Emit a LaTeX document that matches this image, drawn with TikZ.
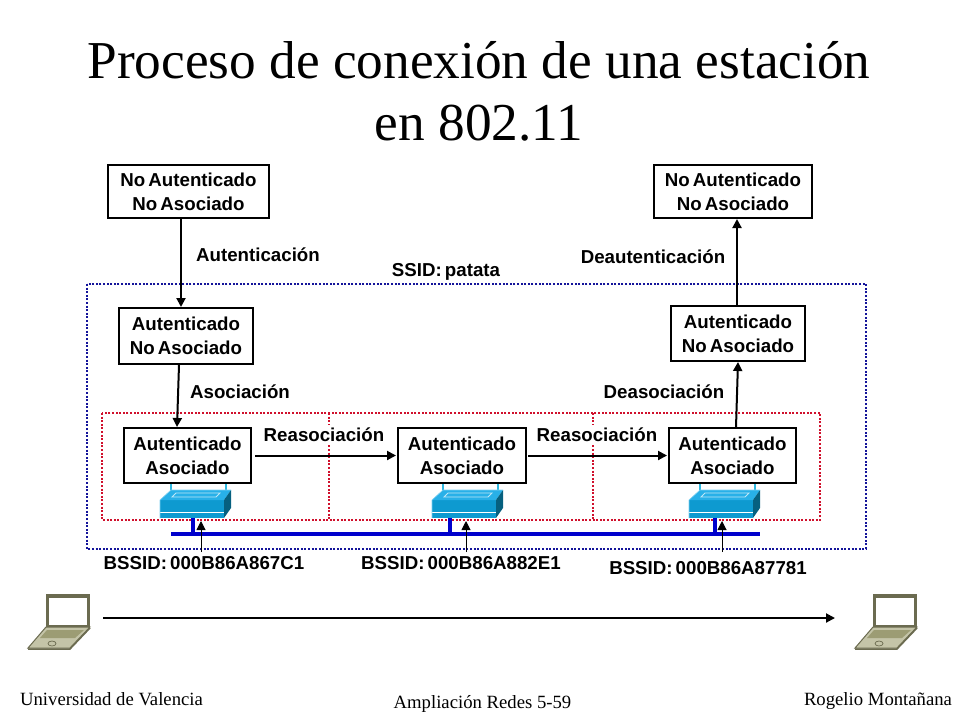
\documentclass[tikz,border=0pt]{standalone}
\usepackage{fontspec}
\setmainfont{Liberation Serif}
\setsansfont{Liberation Sans}[WordSpace=0.6]
\usetikzlibrary{arrows.meta,calc}
\definecolor{dotblue}{HTML}{14149A}
\definecolor{dotred}{HTML}{D0102C}
\definecolor{busblue}{HTML}{0000CC}
\definecolor{swfront}{HTML}{0E9AD0}
\definecolor{swtop}{HTML}{28B0E8}
\definecolor{swside}{HTML}{06607F}
\definecolor{swline}{HTML}{30B8E0}
\definecolor{lapdark}{HTML}{6B6B50}
\definecolor{lapmid}{HTML}{9C9C74}
\definecolor{laplight}{HTML}{C4C4A8}
\tikzset{
  x=1pt,y=-1pt,
  statebox/.style={draw=black,line width=2pt,fill=white,align=center,font=\fontsize{18.7}{24}\selectfont\sffamily\bfseries,inner sep=0pt},
  lbl/.style={font=\fontsize{18.7}{19}\selectfont\sffamily\bfseries,inner sep=1pt},
  lblw/.style={lbl,fill=white,inner xsep=2pt,inner ysep=3pt},
  foot/.style={font=\fontsize{18.7}{20}\selectfont\rmfamily,inner sep=0pt,anchor=base},
  conn/.style={line width=2pt,-{Triangle[length=9pt,width=9pt]},black},
  bssarrow/.style={line width=1pt,-{Triangle[length=9pt,width=9pt]},black},
  bluedots/.style={draw=dotblue,line width=2.2pt,dash pattern=on 2pt off 1.6pt},
  reddots/.style={draw=dotred,line width=2.2pt,dash pattern=on 2pt off 1.6pt},
  bus/.style={draw=busblue,line width=3.2pt},
  swlink/.style={draw=swline,line width=1.3pt},
  pics/switchbox/.style={code={
    \fill[swfront] (0,10) rectangle (64,28);
    \draw[white,line width=.7pt] (0,22) -- (64,22);
    \fill[swtop] (0,10) -- (11,0) -- (71,0) -- (64,10) -- cycle;
    \draw[white!70!swtop,line width=.8pt] (12,7) -- (16,3) -- (60,3) -- (56,7) -- cycle;
    \fill[swside] (64,10) -- (71,0) -- (71,18) -- (64,28) -- cycle;
    \draw[white!40!swtop,line width=.6pt] (0,28) -- (0,10) -- (11,0) -- (71,0);
  }},
  pics/laptop/.style={code={
    \fill[lapdark] (18,0) -- (62,0) -- (62,34) -- (18,34) -- cycle;
    \fill[white] (21,4) rectangle (59,31);
    \fill[laplight,draw=lapdark,line width=1pt] (18,33) -- (62,33) -- (42,54) -- (0,54) -- cycle;
    \fill[lapmid] (19,36) -- (56,36) -- (47,44) -- (12,44) -- cycle;
    \draw[lapdark,line width=.7pt] (24,49.5) ellipse (4 and 2.5);
    \draw[lapdark,line width=1.5pt] (0,55) -- (42,55) -- (62,34);
  }}
}
\begin{document}
\begin{tikzpicture}
\useasboundingbox (0,0) rectangle (960,720);
% title
\node[font=\fontsize{53.3}{62}\selectfont\rmfamily,align=center,inner sep=0pt] (title) at (479,91) {Proceso de conexión de una estación\\en 802.11};
% zones
\draw[bluedots] (87,284) rectangle (866,549);
\draw[reddots] (102,413) rectangle (820,520);
\coordinate (ra) at (329,413); \coordinate (rb) at (329,520);
\coordinate (rc) at (593,413); \coordinate (rd) at (593,520);
\draw[reddots] (ra) -- (rb);
\draw[reddots] (rc) -- (rd);
% bus
\coordinate (busl) at (171,534); \coordinate (busr) at (760,534);
\coordinate (s1) at (193,518); \coordinate (t1) at (193,534);
\coordinate (s2) at (450,518); \coordinate (t2) at (450,534);
\coordinate (s3) at (715,518); \coordinate (t3) at (715,534);
\draw[bus] (busl) -- (busr);
\draw[bus] (s1) -- (t1);
\draw[bus] (s2) -- (t2);
\draw[bus] (s3) -- (t3);
% state boxes
\node[statebox,minimum width=161pt,minimum height=53pt] (n1) at (188.5,191.5) {No Autenticado\\No Asociado};
\node[statebox,minimum width=134pt,minimum height=56pt] (n2) at (186,336) {Autenticado\\No Asociado};
\node[statebox,minimum width=127pt,minimum height=55pt] (n3) at (187.5,455.5) {Autenticado\\Asociado};
\node[statebox,minimum width=128pt,minimum height=55pt] (n4) at (462,455.5) {Autenticado\\Asociado};
\node[statebox,minimum width=127pt,minimum height=55pt] (n5) at (732.5,455.5) {Autenticado\\Asociado};
\node[statebox,minimum width=158pt,minimum height=53pt] (n6) at (733,191.5) {No Autenticado\\No Asociado};
\node[statebox,minimum width=134pt,minimum height=55pt] (n7) at (738,333.5) {Autenticado\\No Asociado};
% switches
\foreach \xa/\xb/\xs in {171/226/160,443/498/432,700/755/689}{
  \draw[swlink] (\xa,484) -- (\xa,492);
  \draw[swlink] (\xb,484) -- (\xb,492);
  \pic at (\xs,490) {switchbox};
}
% labels
\node[lbl] (l1) at (258,255) {Autenticación};
\node[lbl] (l2) at (240,392) {Asociación};
\node[lbl] (l3) at (664,392) {Deasociación};
\node[lbl] (l4) at (653,257) {Deautenticación};
\node[lbl] (l5) at (446,272) {SSID: patata};
\node[lblw] (l6) at (324,435) {Reasociación};
\node[lblw] (l7) at (597,435) {Reasociación};
\node[lbl] (b1) at (204,563) {BSSID: 000B86A867C1};
\node[lbl] (b2) at (461,563) {BSSID: 000B86A882E1};
\node[lbl] (b3) at (708,568) {BSSID: 000B86A87781};
% connectors
\draw[conn] ([xshift=-7.5pt]n1.south) -- ([xshift=-5pt]n2.north);
\draw[conn] ([xshift=-7pt]n2.south) -- ([xshift=-10.5pt]n3.north);
\draw[conn,shorten <=3pt,shorten >=1pt] (n3.east) -- (n4.west);
\draw[conn,shorten <=1pt,shorten >=1pt] (n4.east) -- (n5.west);
\draw[conn] ([xshift=3.5pt]n5.north) -- ([xshift=0pt]n7.south);
\draw[conn] ([xshift=-1pt]n7.north) -- ([xshift=4pt]n6.south);
% bssid arrows
\coordinate (a1) at (201,552); \coordinate (c1) at (201,521);
\coordinate (a2) at (466,552); \coordinate (c2) at (466,521);
\coordinate (a3) at (722,552); \coordinate (c3) at (722,521);
\draw[bssarrow] (a1) -- (c1);
\draw[bssarrow] (a2) -- (c2);
\draw[bssarrow] (a3) -- (c3);
% laptops
\pic at (28,594) {laptop};
\pic at (855,594) {laptop};
\coordinate (mvs) at (103,618); \coordinate (mve) at (835,618);
\draw[conn] (mvs) -- (mve);
% footer
\node[foot] (f1) at (111.5,705.5) {Universidad de Valencia};
\node[foot] (f2) at (482.5,708.5) {Ampliación Redes 5-59};
\node[foot] (f3) at (878,705.5) {Rogelio Montañana};
\end{tikzpicture}
\end{document}
